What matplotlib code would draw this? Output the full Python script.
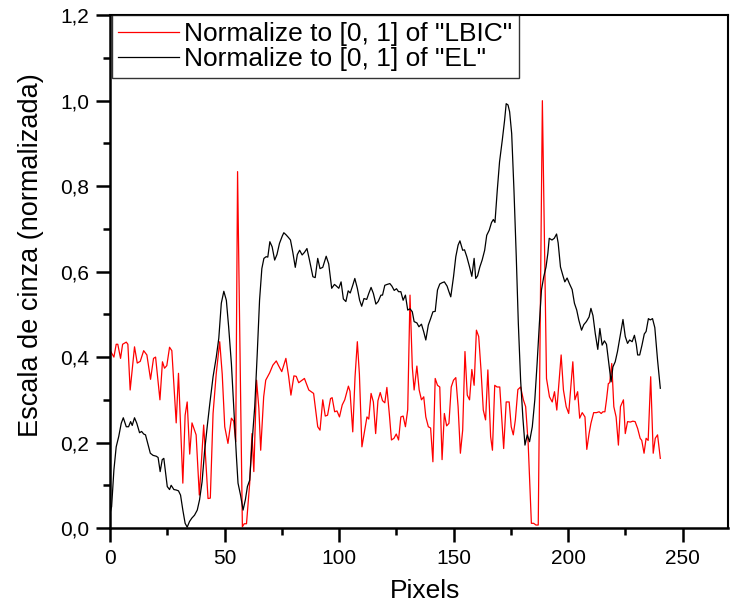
import numpy as np
import matplotlib
matplotlib.use("Agg")
import matplotlib.pyplot as plt
from matplotlib.ticker import MultipleLocator, FuncFormatter

# LBIC profile (normalized)
lbic_x = [0, 1.7, 2.7, 3.4, 4.6, 5.5, 7.1, 7.8, 8.8, 10.7, 11.9, 13.2, 14.7, 16.1, 17.7, 19.0, 19.9,
          21.8, 22.9, 23.8, 24.8, 26.0, 27.0, 28.9, 29.9, 31.8, 32.8, 33.7, 34.8, 35.8, 37.6, 39.0,
          40.9, 42.8, 43.8, 45.0, 46.4, 47.9, 49.0, 50.1, 51.5, 53.0, 54.0, 54.9, 55.7, 57.8, 58.6,
          59.6, 61.0, 62.0, 62.8, 64.0, 65.0, 65.8, 67.1, 68.0, 69.7, 71.1, 72.6, 73.6, 75.0, 76.8,
          78.0, 79.0, 80.3, 81.3, 82.4, 84.9, 86.8, 88.9, 90.7, 91.7, 92.9, 94.0, 95.0, 96.3, 97.0,
          98.1, 99.1, 100.2, 101.4, 102.5, 104.1, 104.8, 106.0, 107.0, 108.0, 108.9, 110.0, 111.2,
          112.2, 113.0, 114.0, 115.0, 116.0, 117.0, 118.0, 119.0, 120.0, 120.9, 122.0, 122.9, 124.0,
          125.0, 126.0, 127.0, 128.0, 129.0, 130.0, 131.0, 132.0, 132.8, 134.0, 135.0, 136.0, 137.0,
          137.9, 139.0, 140.0, 141.0, 142.0, 143.0, 144.0, 145.0, 146.0, 147.0, 148.0, 149.0, 150.0,
          151.0, 152.0, 153.0, 154.0, 155.0, 156.0, 157.0, 158.0, 159.0, 160.0, 161.0, 162.0, 163.0,
          164.0, 165.0, 166.2, 167.0, 168.0, 169.0, 170.2, 171.9, 173.0, 174.3, 175.2, 176.1, 177.0,
          178.1, 179.3, 180.5, 181.5, 182.6, 184.0, 185.0, 186.0, 187.0, 188.8, 190.6, 191.9, 193.1,
          194.1, 195.1, 196.0, 197.0, 198.0, 199.2, 200.3, 202.1, 203.0, 204.2, 205.1, 206.2, 207.4,
          208.2, 209.2, 210.0, 211.2, 212.4, 213.6, 214.5, 215.2, 216.1, 216.8, 217.6, 218.2, 219.1,
          220.0, 221.0, 222.0, 222.9, 224.2, 225.0, 226.0, 227.2, 228.3, 229.3, 230.4, 231.5, 232.2,
          233.2, 234.1, 235.0, 236.1, 237.2, 238.1, 239.1, 240.3]
lbic_y = [0.416, 0.40, 0.43, 0.43, 0.397, 0.43, 0.435, 0.43, 0.323, 0.424, 0.386, 0.39, 0.415, 0.405,
          0.348, 0.397, 0.40, 0.30, 0.389, 0.374, 0.38, 0.423, 0.415, 0.246, 0.362, 0.105, 0.264,
          0.295, 0.173, 0.246, 0.218, 0.077, 0.241, 0.069, 0.07, 0.268, 0.362, 0.436, 0.36, 0.237,
          0.198, 0.257, 0.25, 0.202, 0.834, 0.003, 0.01, 0.01, 0.105, 0.221, 0.132, 0.346, 0.28,
          0.182, 0.307, 0.346, 0.363, 0.381, 0.391, 0.38, 0.366, 0.397, 0.355, 0.311, 0.356, 0.355,
          0.34, 0.35, 0.323, 0.315, 0.237, 0.229, 0.30, 0.262, 0.264, 0.303, 0.305, 0.272, 0.274,
          0.26, 0.288, 0.30, 0.332, 0.32, 0.225, 0.354, 0.436, 0.36, 0.19, 0.229, 0.26, 0.255, 0.315,
          0.295, 0.221, 0.298, 0.317, 0.298, 0.293, 0.329, 0.265, 0.206, 0.21, 0.22, 0.206, 0.26,
          0.262, 0.237, 0.277, 0.545, 0.377, 0.323, 0.379, 0.323, 0.30, 0.307, 0.26, 0.237, 0.234,
          0.155, 0.35, 0.334, 0.33, 0.16, 0.268, 0.239, 0.245, 0.33, 0.346, 0.352, 0.284, 0.175,
          0.229, 0.413, 0.311, 0.30, 0.371, 0.334, 0.463, 0.448, 0.37, 0.276, 0.253, 0.37, 0.214,
          0.182, 0.334, 0.33, 0.33, 0.186, 0.295, 0.295, 0.237, 0.218, 0.253, 0.324, 0.33, 0.30,
          0.284, 0.198, 0.011, 0.011, 0.007, 0.007, 1.0, 0.35, 0.307, 0.295, 0.319, 0.276, 0.338,
          0.405, 0.323, 0.284, 0.268, 0.389, 0.30, 0.319, 0.257, 0.27, 0.26, 0.184, 0.221, 0.245,
          0.27, 0.27, 0.272, 0.268, 0.272, 0.272, 0.30, 0.338, 0.34, 0.385, 0.284, 0.26, 0.194,
          0.284, 0.30, 0.221, 0.249, 0.248, 0.25, 0.249, 0.233, 0.21, 0.205, 0.175, 0.21, 0.205,
          0.354, 0.175, 0.21, 0.218, 0.163]

# EL profile (normalized)
el_x = [0, 0.7, 1.7, 2.7, 3.8, 4.9, 5.8, 7.1, 8.1, 9.0, 9.7, 10.7, 11.7, 12.9, 13.8, 14.7, 15.5, 16.5,
        17.6, 18.8, 20.2, 21.0, 21.9, 22.8, 23.5, 25.0, 26.0, 26.7, 27.9, 28.9, 29.9, 30.8, 31.8,
        32.8, 33.7, 34.7, 35.7, 36.9, 38.1, 39.1, 40.2, 41.3, 42.5, 43.6, 45.0, 46.4, 47.5, 48.6,
        49.7, 50.8, 51.8, 53.0, 54.1, 55.2, 55.9, 57.0, 58.1, 59.1, 60.0, 61.0, 62.0, 63.2, 64.3,
        65.3, 66.3, 67.2, 68.2, 68.9, 69.8, 70.8, 71.9, 72.9, 74.0, 75.2, 75.9, 76.9, 77.9, 78.8,
        79.8, 80.9, 81.8, 82.8, 83.9, 84.9, 86.0, 87.1, 88.6, 89.6, 90.7, 91.7, 92.9, 94.4, 95.5,
        96.8, 98.0, 98.7, 99.9, 100.9, 101.9, 103.0, 104.0, 104.9, 106.0, 106.9, 108.0, 109.0,
        109.9, 110.9, 112.1, 113.0, 114.0, 115.0, 116.1, 117.1, 118.3, 119.0, 120.0, 121.0, 122.2,
        123.1, 124.1, 125.1, 126.0, 127.0, 128.0, 129.0, 130.0, 131.0, 132.0, 132.8, 134.0, 134.9,
        136.0, 137.0, 137.9, 139.0, 140.0, 141.0, 142.0, 143.0, 144.0, 145.0, 146.0, 147.2, 148.0,
        148.8, 150.0, 151.0, 152.0, 152.8, 154.0, 154.8, 155.8, 157.0, 158.0, 159.0, 159.7, 160.5,
        161.5, 162.5, 163.6, 164.5, 165.6, 166.6, 167.4, 168.1, 169.1, 170.1, 171.3, 172.3, 173.0,
        173.8, 174.5, 175.4, 176.4, 177.4, 178.3, 179.3, 180.3, 181.2, 182.2, 183.2, 184.4, 185.5,
        186.5, 187.5, 188.4, 189.4, 190.4, 191.2, 191.8, 193.0, 194.0, 195.0, 195.7, 196.7, 197.7,
        198.6, 199.6, 200.6, 201.8, 202.8, 203.8, 204.7, 205.9, 206.9, 208.0, 209.2, 210.0, 210.9,
        211.9, 213.0, 213.9, 214.9, 215.9, 216.8, 217.8, 218.8, 219.6, 220.6, 221.6, 222.8, 224.0,
        225.0, 226.0, 226.9, 228.0, 229.0, 229.8, 230.4, 231.3, 232.3, 233.3, 234.1, 235.1, 235.9,
        236.9, 237.9, 239.1, 240.3]
el_y = [0.034, 0.05, 0.136, 0.19, 0.214, 0.245, 0.258, 0.237, 0.237, 0.249, 0.24, 0.258, 0.245, 0.223,
        0.226, 0.22, 0.218, 0.198, 0.175, 0.17, 0.168, 0.165, 0.132, 0.16, 0.163, 0.097, 0.09, 0.1,
        0.09, 0.089, 0.087, 0.077, 0.042, 0.011, 0.002, 0.015, 0.023, 0.03, 0.042, 0.066, 0.108,
        0.18, 0.24, 0.292, 0.354, 0.40, 0.444, 0.526, 0.554, 0.533, 0.471, 0.385, 0.276, 0.167,
        0.105, 0.077, 0.042, 0.066, 0.097, 0.112, 0.198, 0.284, 0.409, 0.533, 0.607, 0.631, 0.635,
        0.634, 0.67, 0.658, 0.627, 0.64, 0.666, 0.683, 0.691, 0.686, 0.68, 0.674, 0.646, 0.61, 0.64,
        0.65, 0.639, 0.645, 0.654, 0.627, 0.588, 0.586, 0.631, 0.607, 0.61, 0.636, 0.618, 0.561,
        0.57, 0.567, 0.561, 0.576, 0.536, 0.53, 0.555, 0.55, 0.568, 0.584, 0.561, 0.533, 0.519,
        0.537, 0.535, 0.549, 0.563, 0.549, 0.524, 0.53, 0.545, 0.545, 0.568, 0.57, 0.572, 0.566,
        0.556, 0.56, 0.553, 0.553, 0.533, 0.545, 0.51, 0.513, 0.506, 0.483, 0.48, 0.471, 0.477,
        0.459, 0.44, 0.475, 0.49, 0.506, 0.507, 0.557, 0.571, 0.574, 0.576, 0.566, 0.553, 0.541,
        0.588, 0.635, 0.662, 0.672, 0.65, 0.651, 0.635, 0.611, 0.589, 0.631, 0.584, 0.59, 0.611,
        0.627, 0.65, 0.685, 0.697, 0.715, 0.722, 0.715, 0.79, 0.857, 0.908, 0.954, 0.993, 0.99,
        0.974, 0.923, 0.79, 0.635, 0.479, 0.346, 0.257, 0.194, 0.218, 0.202, 0.237, 0.30, 0.385,
        0.479, 0.557, 0.588, 0.611, 0.643, 0.678, 0.674, 0.678, 0.688, 0.667, 0.611, 0.592, 0.576,
        0.585, 0.572, 0.558, 0.526, 0.51, 0.487, 0.463, 0.476, 0.483, 0.494, 0.514, 0.497, 0.455,
        0.418, 0.467, 0.428, 0.438, 0.43, 0.385, 0.342, 0.377, 0.389, 0.413, 0.451, 0.488, 0.448,
        0.432, 0.44, 0.436, 0.451, 0.43, 0.405, 0.405, 0.428, 0.454, 0.46, 0.49, 0.487, 0.49, 0.469,
        0.393, 0.327]

plt.rcParams['font.family'] = ['Liberation Sans', 'DejaVu Sans']

fig = plt.figure(figsize=(7.3, 6.04), dpi=100)
ax = fig.add_axes([0.1507, 0.1258, 0.847, 0.849])

ax.plot(lbic_x, lbic_y, color='red', lw=0.9, label='Normalize to [0, 1] of "LBIC"')
ax.plot(el_x, el_y, color='black', lw=0.9, label='Normalize to [0, 1] of "EL"')

ax.set_xlim(0, 270)
ax.set_ylim(0, 1.2)
ax.xaxis.set_major_locator(MultipleLocator(50))
ax.xaxis.set_minor_locator(MultipleLocator(25))
ax.yaxis.set_major_locator(MultipleLocator(0.2))
ax.yaxis.set_minor_locator(MultipleLocator(0.1))
ax.yaxis.set_major_formatter(FuncFormatter(lambda v, p: f'{v:.1f}'.replace('.', ',')))

ax.tick_params(which='major', direction='out', length=10, width=1.8, labelsize=15, pad=5)
ax.tick_params(which='minor', direction='out', length=5, width=1.8)
ax.tick_params(top=False, right=False, which='both')

ax.spines['left'].set_linewidth(1.8)
ax.spines['bottom'].set_linewidth(1.8)
ax.spines['top'].set_linewidth(1.5)
ax.spines['right'].set_linewidth(1.5)

ax.set_xlabel('Pixels', fontsize=19, labelpad=9)
ax.xaxis.set_label_coords(0.51, -0.1)
ax.xaxis.label.set_va('top')
ax.set_ylabel('Escala de cinza (normalizada)', fontsize=19.5)
ax.yaxis.set_label_coords(-0.107, 0.532)

leg = ax.legend(loc='upper left', bbox_to_anchor=(0.003, 1.0), borderaxespad=0,
                fontsize=19, frameon=True, fancybox=False, handlelength=2.3,
                handletextpad=0.2, labelspacing=0.05, borderpad=0.25)
leg.get_frame().set_edgecolor('black')
leg.get_frame().set_linewidth(1.0)

fig.savefig('out.png', dpi=100)
